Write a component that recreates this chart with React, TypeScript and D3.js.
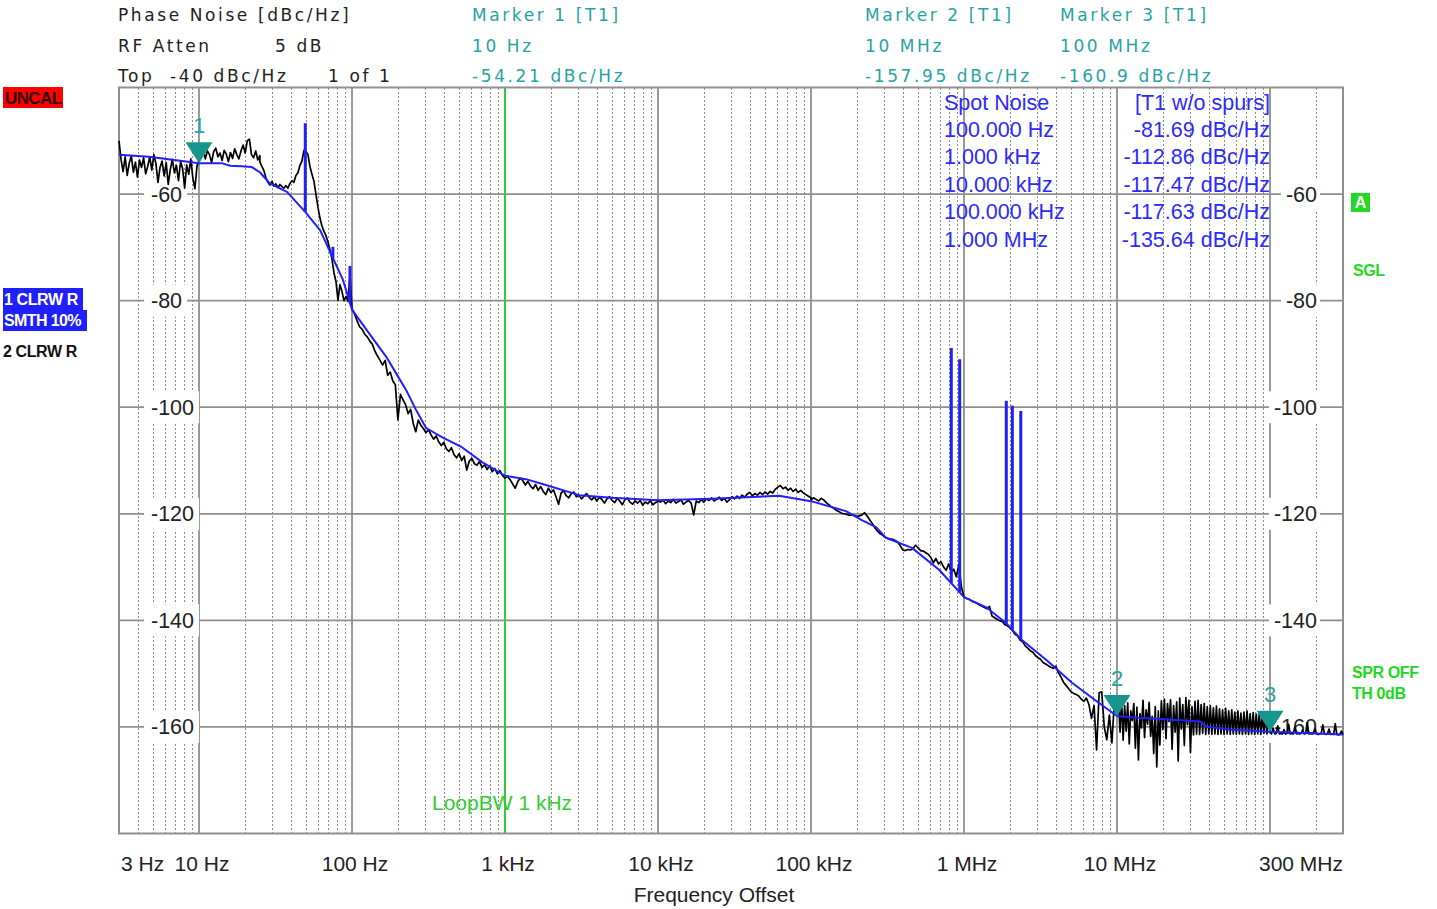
import React from 'react';
import * as d3 from 'd3';

// ---------------- data ----------------
const xTickFreqs = [3, 10, 100, 1e3, 1e4, 1e5, 1e6, 1e7, 3e8];
const xTickLabels = ['3 Hz', '10 Hz', '100 Hz', '1 kHz', '10 kHz', '100 kHz', '1 MHz', '10 MHz', '300 MHz'];
const decadeLines = [10, 100, 1e3, 1e4, 1e5, 1e6, 1e7, 1e8];
const minorDecades = [1, 10, 100, 1e3, 1e4, 1e5, 1e6, 1e7, 1e8];
const minorMults = [2, 3, 4, 5, 6, 7, 8, 9];
const dbGridLevels = [-60, -80, -100, -120, -140, -160];

// Trace 1 (blue, smoothed)
const blueFreqs = [3, 4.7, 6.9, 10, 14, 16, 19, 22, 25, 29, 37.6, 49.3, 62, 75, 87, 100, 129, 167, 194, 226, 262, 305, 387, 523, 708, 1000, 1370, 1850, 3050, 5000, 1e4, 22500, 37600, 61800, 1e5, 169000, 215000, 266000, 309000, 457000, 687000, 1e6, 1.39e6, 1.88e6, 2.39e6, 3.44e6, 5.08e6, 7.63e6, 1e7, 1.39e7, 1.69e7, 3.09e7, 3.5e7, 3.82e7, 5.4e7, 1e8, 3e8];
const blueDb = [-52.6, -53.0, -53.6, -54.2, -54.2, -54.7, -54.8, -54.9, -55.9, -58.0, -59.6, -63.3, -66.8, -72.0, -76.0, -81.69, -86.1, -90.5, -93.6, -96.8, -100.5, -103.9, -105.6, -107.5, -110.3, -112.86, -113.5, -114.6, -116.5, -117.0, -117.47, -117.2, -116.9, -116.6, -117.63, -119.5, -121.2, -122.5, -124.5, -126.4, -130.5, -135.64, -137.5, -140.5, -143.7, -147.4, -151.7, -155.5, -157.95, -158.3, -158.4, -158.9, -159.0, -159.9, -160.5, -160.9, -161.4];

// Trace 1 spurs (blue)
const spurFreqs = [49.5, 75, 97, 826e3, 937e3, 1.89e6, 2.07e6, 2.35e6];
const spurDb = [-46.7, -69.9, -73.5, -88.9, -91.0, -98.8, -99.7, -100.7];

// Trace 2 (black, raw) — sweep segments, points evenly spaced in log frequency
const blackSegA = [-50.0, -53.5, -55.8, -53.0, -56.5, -54.2, -52.8, -55.9, -54.0, -56.8, -53.6, -55.0, -53.2, -56.2, -54.8, -53.0, -55.5, -52.6, -54.3, -57.8, -55.0, -53.8, -56.6, -54.1, -58.2, -55.4, -53.5, -56.0, -54.6, -57.5, -53.9, -55.2, -58.9, -54.5, -56.3, -53.4, -57.0, -59.0, -54.8, -53.6];
const blackSegB = [-54.0, -52.8, -51.6, -53.4, -51.9, -52.6, -54.1, -52.0, -51.4, -53.0, -52.3, -53.7, -51.8, -52.5, -53.9, -52.2, -53.3, -51.5, -52.6, -53.4, -51.9, -50.8, -52.3, -50.0, -49.7, -52.6, -53.2, -51.9, -53.6, -52.8];
const blackSegC = [-54.0, -54.8, -55.6, -56.9, -57.8, -58.3, -57.6, -58.5, -58.1, -58.8, -58.2, -58.6, -58.9, -58.4, -58.9, -58.0, -57.5, -57.8, -56.5, -56.0, -54.6, -53.8, -51.8, -52.0, -52.6, -54.8, -56.3, -57.6, -60.0, -62.5, -64.5, -66.0, -67.0, -67.8, -69.0, -70.5, -72.2, -74.8, -76.4, -79.9, -77.0, -78.3, -80.0, -79.2, -80.1, -75.2, -81.5];
const blackSegD = [-81.5, -82.5, -83.8, -84.9, -85.4, -86.3, -86.8, -87.6, -88.2, -89.5, -90.4, -91.2, -92.1, -91.2, -94.0, -93.4, -95.1, -95.8, -102.4, -97.6, -98.6, -99.5, -101.2, -100.4, -103.0, -104.6, -102.4, -103.4, -104.0, -104.8, -104.2, -105.2, -106.0, -105.4, -106.5, -107.2, -106.6, -107.8, -108.3, -107.6, -108.9, -109.5, -108.7, -110.0, -109.2, -111.8, -110.1, -109.6, -110.6, -110.9, -110.2, -111.3, -110.8, -111.7, -111.0, -112.1, -111.5, -112.5, -111.9, -112.8, -113.3];
const blackSegE = [-113.3, -113.0, -113.6, -114.4, -115.2, -114.0, -113.3, -113.8, -114.6, -113.9, -114.8, -115.3, -114.5, -115.6, -114.9, -115.8, -116.4, -115.2, -116.0, -115.5, -116.8, -118.2, -116.1, -115.7, -116.6, -117.0, -116.2, -115.9, -116.8, -116.5, -117.2, -116.7, -116.2, -116.9, -117.4, -116.8, -117.6, -116.9, -117.3, -118.0, -117.2, -116.8, -117.5, -117.9, -117.1, -117.6, -118.3, -117.4, -117.0, -117.8, -118.2, -117.6, -118.0, -117.5, -118.4, -117.8, -118.1, -117.5, -118.3, -117.9, -117.7];
const blackSegF = [-117.5, -117.8, -117.4, -118.1, -117.6, -117.9, -117.3, -118.0, -117.7, -117.4, -118.2, -117.8, -117.5, -118.0, -120.2, -117.6, -117.9, -117.3, -117.8, -117.2, -117.5, -117.0, -117.6, -117.3, -116.9, -117.5, -117.1, -117.8, -117.4, -116.8, -117.2, -116.7, -117.1, -116.5, -116.9, -116.3, -116.0, -116.6, -116.2, -116.5, -116.0, -116.4, -115.9, -116.3, -115.8, -116.1, -115.4, -115.0, -114.7, -115.3, -115.0, -115.6, -115.2, -115.8, -115.4, -116.0, -115.6, -116.1, -116.4, -116.7, -117.0];
const blackSegG = [-117.4, -117.0, -117.3, -117.6, -117.1, -117.4, -117.9, -118.3, -118.7, -119.0, -119.4, -119.6, -119.9, -120.0, -120.1, -120.3, -120.2, -120.3, -120.5, -120.4, -120.2, -119.8, -120.4, -121.1, -121.8, -122.6, -123.2, -123.7, -124.0, -124.4, -124.6, -124.7, -124.8, -125.0, -125.3, -126.0, -126.8, -126.9, -126.7, -126.8, -126.5, -125.9, -126.4, -126.9, -127.0, -127.3, -127.6, -128.2, -129.2, -128.4, -129.4, -129.0, -130.0, -130.6, -129.4, -131.0, -130.4, -131.8, -129.5, -133.8, -135.6];
const blackSegH = [-135.6, -135.9, -136.0, -136.4, -136.6, -136.8, -137.1, -137.3, -137.6, -137.8, -137.4, -139.2, -139.5, -139.8, -140.1, -140.2, -140.8, -141.0, -141.4, -141.9, -142.6, -142.9, -143.7, -144.0, -144.8, -145.2, -145.7, -146.0, -146.6, -147.0, -147.3, -147.9, -148.2, -148.5, -148.8, -149.0, -148.6, -149.8, -150.6, -151.6, -152.2, -152.8, -153.4, -153.7, -153.9, -154.2, -154.8, -155.2, -154.6, -155.8, -158.4, -156.0, -164.3, -153.6, -153.4, -160.0, -162.4, -157.8, -163.0, -155.0, -157.5];
const blackSegI = [-157.5,
  -155.2, -161.0, -154.8, -162.5, -156.0, -160.8, -155.5, -163.2, -157.0, -158.8,
  -155.6, -164.0, -156.3, -166.2, -157.5, -160.2, -155.0, -162.0, -156.8, -159.5,
  -155.4, -161.8, -158.0, -165.0, -156.2, -167.5, -157.0, -163.4, -155.1, -160.5,
  -154.8, -162.2, -155.6, -159.0, -154.9, -164.2, -156.0, -161.0, -155.3, -166.4,
  -154.6, -160.4, -155.8, -163.5, -154.5, -159.6, -155.0, -164.8, -156.2, -161.5,
  -155.2, -161.3, -155.0, -161.4, -155.8, -161.2, -155.6, -161.4, -156.2, -161.3,
  -156.0, -161.4, -156.4, -161.3, -156.1, -161.4, -156.6, -161.3, -156.8, -161.4,
  -156.5, -161.3, -157.0, -161.4, -156.8, -161.3, -157.2, -161.4, -157.0, -161.3,
  -157.4, -161.4, -157.2, -161.3, -157.0, -161.4, -157.5, -161.3, -157.3, -161.4,
  -157.6, -161.3, -157.4, -161.4, -157.8, -161.2, -157.6, -161.3, -158.0, -161.1];
const blackSegJ = [-161.0, -161.3, -160.2, -161.3, -161.2, -159.8, -161.3, -161.2, -161.3, -160.5, -161.3, -161.2, -159.5, -161.3, -161.2, -161.3, -160.0, -161.3, -161.2, -161.3, -161.2, -160.6, -161.3, -161.2, -159.2, -161.3, -161.2, -161.3, -161.2, -160.3, -161.3, -161.4, -161.3, -161.2, -159.6, -161.3, -161.4, -161.3, -160.4, -161.4, -161.3, -161.4, -159.4, -161.4, -161.5, -161.4, -160.8, -161.5];
const blackSegFrom = [3, 10, 25, 100, 1e3, 1e4, 1e5, 1e6, 1e7, 1e8];
const blackSegTo = [10, 25, 100, 1e3, 1e4, 1e5, 1e6, 1e7, 1e8, 3e8];
const blackSegValues = [blackSegA, blackSegB, blackSegC, blackSegD, blackSegE, blackSegF, blackSegG, blackSegH, blackSegI, blackSegJ];

// Markers
const markerFreqs = [10, 1e7, 1e8];
const markerDb = [-54.21, -157.95, -160.9];
const markerNames = ['1', '2', '3'];

// Header
const markerHeaderTitles = ['Marker 1 [T1]', 'Marker 2 [T1]', 'Marker 3 [T1]'];
const markerHeaderFreqs = ['10 Hz', '10 MHz', '100 MHz'];
const markerHeaderValues = ['-54.21 dBc/Hz', '-157.95 dBc/Hz', '-160.9 dBc/Hz'];

// Spot noise table
const spotFreqLabels = ['100.000 Hz', '1.000 kHz', '10.000 kHz', '100.000 kHz', '1.000 MHz'];
const spotValues = ['-81.69 dBc/Hz', '-112.86 dBc/Hz', '-117.47 dBc/Hz', '-117.63 dBc/Hz', '-135.64 dBc/Hz'];

const loopBwFreq = 1e3;

// ---------------- layout ----------------
const X0 = 119, X1 = 1343, Y0 = 87.5, Y1 = 833.5;
const ARIAL = "'Liberation Sans', Arial, sans-serif";
const VERD = "'DejaVu Sans', Verdana, sans-serif";
const TEAL = '#27a3a3';
const TRI = '#16958f';
const BLUE = '#2020ff';
const GREEN = '#22d822';
const GRID = '#8f8f8f';

export default function App() {
  const x = d3.scaleLog().domain([3, 3e8]).range([X0, X1]);
  const y = d3.scaleLinear().domain([-180, -40]).range([Y1, Y0]);
  const line = d3.line<[number, number]>().x(d => x(d[0])).y(d => y(d[1]));

  const bluePts: [number, number][] = blueFreqs.map((f, i) => [f, blueDb[i]]);
  const blackPts: [number, number][] = [];
  blackSegValues.forEach((vals, s) => {
    const f0 = blackSegFrom[s], f1 = blackSegTo[s];
    vals.forEach((v, i) => {
      blackPts.push([f0 * Math.pow(f1 / f0, i / (vals.length - 1)), v]);
    });
  });
  const blueAt = (f: number) => {
    const lf = Math.log10(f);
    for (let i = 0; i < blueFreqs.length - 1; i++) {
      const a = Math.log10(blueFreqs[i]), b = Math.log10(blueFreqs[i + 1]);
      if (lf >= a && lf <= b) return blueDb[i] + (blueDb[i + 1] - blueDb[i]) * (lf - a) / (b - a);
    }
    return blueDb[blueDb.length - 1];
  };

  const minorLines: number[] = [];
  minorDecades.forEach(d => minorMults.forEach(m => {
    const f = d * m;
    if (f > 3 && f < 3e8) minorLines.push(f);
  }));

  const labelW = (s: string) => s.length * 11.95 - 4.8;

  return (
    <svg width={1437} height={909} style={{ display: 'block', position: 'absolute', left: 0, top: 0 }}>
      <rect x={0} y={0} width={1437} height={909} fill="#fff" />

      {/* header */}
      <g fontFamily={VERD} fontSize={17} letterSpacing={2.6}>
        <text x={118} y={21} fill="#222">Phase Noise [dBc/Hz]</text>
        <text x={118} y={52} fill="#222">RF Atten</text>
        <text x={275} y={52} fill="#222">5 dB</text>
        <text x={118} y={82} fill="#222">Top</text>
        <text x={170} y={82} fill="#222">-40 dBc/Hz</text>
        <text x={328} y={82} fill="#222">1 of 1</text>
        {[472, 865, 1060].map((hx, i) => (
          <g key={i} fill={TEAL}>
            <text x={hx} y={21}>{markerHeaderTitles[i]}</text>
            <text x={hx} y={52}>{markerHeaderFreqs[i]}</text>
            <text x={hx} y={82}>{markerHeaderValues[i]}</text>
          </g>
        ))}
      </g>

      {/* left badges */}
      <rect x={3} y={87} width={60} height={21} fill="#ff0000" />
      <text x={5} y={104} fontFamily={ARIAL} fontWeight="bold" fontSize={17} letterSpacing={-0.6} fill="#300">UNCAL</text>
      <rect x={3} y={288} width={80} height={22} fill={BLUE} />
      <rect x={3} y={310} width={84} height={21} fill={BLUE} />
      <text x={4} y={305} fontFamily={ARIAL} fontWeight="bold" fontSize={16} letterSpacing={-0.4} fill="#fff">1 CLRW R</text>
      <text x={4} y={326} fontFamily={ARIAL} fontWeight="bold" fontSize={16} letterSpacing={-0.6} fill="#fff">SMTH 10%</text>
      <text x={3} y={357} fontFamily={ARIAL} fontWeight="bold" fontSize={16} letterSpacing={-0.4} fill="#111">2 CLRW R</text>

      {/* right badges */}
      <rect x={1351} y={193} width={19} height={19} fill={GREEN} />
      <text x={1360.5} y={208} textAnchor="middle" fontFamily={ARIAL} fontWeight="bold" fontSize={16} fill="#fff">A</text>
      <g fontFamily={ARIAL} fontWeight="bold" fontSize={16} fill={GREEN} letterSpacing={-0.4}>
        <text x={1353} y={276}>SGL</text>
        <text x={1352} y={678}>SPR OFF</text>
        <text x={1352} y={699}>TH 0dB</text>
      </g>

      {/* grid */}
      <g>
        {minorLines.map((f, i) => {
          const gx = Math.round(x(f)) + 0.5;
          return (
            <line key={'m' + i} x1={gx} x2={gx} y1={Y0} y2={Y1} stroke="#8c8c8c" strokeWidth={1} strokeDasharray="2,2" shapeRendering="crispEdges" />
          );
        })}
        {decadeLines.map((f, i) => (
          <line key={'d' + i} x1={x(f)} x2={x(f)} y1={Y0} y2={Y1} stroke={GRID} strokeWidth={1.8} />
        ))}
        {dbGridLevels.map((v, i) => (
          <line key={'h' + i} x1={X0} x2={X1} y1={y(v)} y2={y(v)} stroke={GRID} strokeWidth={1.8} />
        ))}
        <rect x={X0} y={Y0} width={X1 - X0} height={Y1 - Y0} fill="none" stroke={GRID} strokeWidth={2} />
      </g>

      {/* y labels */}
      <g fontFamily={ARIAL} fontSize={21.5} fill="#222">
        {dbGridLevels.map((v, i) => {
          const s = String(v);
          const w = labelW(s);
          return (
            <g key={'yl' + i}>
              <rect x={144} y={y(v) - 16} width={w + 12} height={32} fill="#fff" />
              <text x={151} y={y(v) + 7.5}>{s}</text>
              <rect x={1317 - w - 5} y={y(v) - 16} width={w + 8} height={32} fill="#fff" />
              <text x={1317} y={y(v) + 7.5} textAnchor="end">{s}</text>
            </g>
          );
        })}
      </g>

      {/* LoopBW */}
      <line x1={x(loopBwFreq)} x2={x(loopBwFreq)} y1={Y0} y2={Y1} stroke="#2ecc2e" strokeWidth={1.8} />
      <text x={432} y={810} fontFamily={ARIAL} fontSize={21} fill="#33cc33">LoopBW 1 kHz</text>

      {/* spot noise table */}
      <g fontFamily={ARIAL} fontSize={21.5} fill="#2b2bff">
        <text x={944} y={110}>Spot Noise</text>
        <text x={1270} y={110} textAnchor="end">[T1 w/o spurs]</text>
        {spotFreqLabels.map((s, i) => (
          <g key={'sp' + i}>
            <text x={944} y={137 + i * 27.4}>{s}</text>
            <text x={1270} y={137 + i * 27.4} textAnchor="end">{spotValues[i]}</text>
          </g>
        ))}
      </g>

      {/* traces */}
      <path d={line(blackPts) || ''} fill="none" stroke="#000" strokeWidth={1.7} strokeLinejoin="round" />
      <path d={line(bluePts) || ''} fill="none" stroke={BLUE} strokeWidth={2} strokeLinejoin="round" />
      {spurFreqs.map((f, i) => (
        <line key={'s' + i} x1={x(f)} x2={x(f)} y1={y(spurDb[i])} y2={y(blueAt(f))} stroke={BLUE} strokeWidth={3} />
      ))}

      {/* markers */}
      {markerFreqs.map((f, i) => {
        const mx = x(f), my = y(markerDb[i]);
        return (
          <g key={'mk' + i}>
            <path d={`M${mx - 13.5},${my - 21} L${mx + 13.5},${my - 21} L${mx},${my} Z`} fill={TRI} />
            <text x={mx} y={my - 30} textAnchor="middle" fontFamily={ARIAL} fontSize={22} fill={TEAL}>{markerNames[i]}</text>
          </g>
        );
      })}

      {/* x axis labels */}
      <g fontFamily={ARIAL} fontSize={21} fill="#222">
        {xTickFreqs.map((f, i) => {
          const first = i === 0, last = i === xTickFreqs.length - 1;
          return (
            <text key={'xt' + i} x={first ? 121 : last ? 1343 : x(f) + 3} y={871}
              textAnchor={first ? 'start' : last ? 'end' : 'middle'}>{xTickLabels[i]}</text>
          );
        })}
        <text x={714} y={902} textAnchor="middle">Frequency Offset</text>
      </g>
    </svg>
  );
}
